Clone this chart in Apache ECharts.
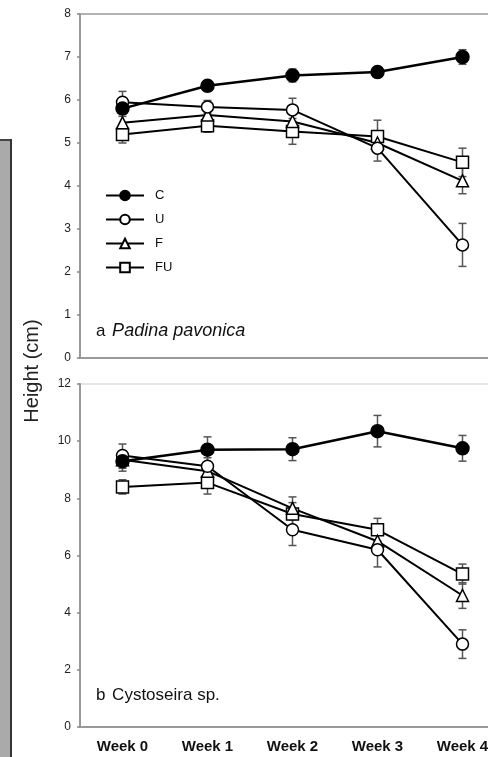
<!DOCTYPE html>
<html>
<head>
<meta charset="utf-8">
<script src="https://cdn.jsdelivr.net/npm/echarts@6/dist/echarts.min.js"></script>
<style>
  html, body { margin: 0; padding: 0; background: #fff; }
  #chart { width: 488px; height: 757px; }
</style>
</head>
<body>
<div id="chart"></div>
<script>
// Weekly sampling points shared by both panels
const weeks = ['Week 0', 'Week 1', 'Week 2', 'Week 3', 'Week 4'];
const treatments = ['C', 'U', 'F', 'FU'];

// Panel a: Padina pavonica, mean height (cm)
const padinaC  = [5.8, 6.33, 6.57, 6.65, 7.0];
const padinaU  = [5.95, 5.84, 5.77, 4.88, 2.63];
const padinaF  = [5.47, 5.65, 5.5, 5.0, 4.12];
const padinaFU = [5.2, 5.4, 5.27, 5.15, 4.55];
// Panel a: standard errors
const padinaErrC  = [0.12, 0.12, 0.15, 0.12, 0.17];
const padinaErrU  = [0.25, 0.15, 0.27, 0.3, 0.5];
const padinaErrF  = [0.15, 0.15, 0.2, 0.2, 0.3];
const padinaErrFU = [0.2, 0.15, 0.3, 0.38, 0.33];

// Panel b: Cystoseira sp., mean height (cm)
const cystC  = [9.3, 9.7, 9.72, 10.35, 9.75];
const cystU  = [9.5, 9.12, 6.9, 6.2, 2.9];
const cystF  = [9.35, 8.95, 7.65, 6.5, 4.6];
const cystFU = [8.4, 8.55, 7.45, 6.9, 5.35];
// Panel b: standard errors
const cystErrC  = [0.35, 0.45, 0.4, 0.55, 0.45];
const cystErrU  = [0.4, 0.3, 0.55, 0.6, 0.5];
const cystErrF  = [0.3, 0.3, 0.4, 0.4, 0.45];
const cystErrFU = [0.25, 0.4, 0.4, 0.4, 0.35];

// Y-axis tick settings for each panel
const padinaTicks = { min: 0, max: 8, interval: 1 };
const cystTicks = { min: 0, max: 12, interval: 2 };

const FONT = '"Liberation Sans", Arial, sans-serif';

const markerStyle = {
  C:  { symbol: 'circle',   size: 13, fill: '#000' },
  U:  { symbol: 'circle',   size: 12, fill: '#fff' },
  F:  { symbol: 'triangle', size: 12, fill: '#fff' },
  FU: { symbol: 'rect',     size: 12, fill: '#fff' }
};

function lineSeries(name, values, gridIndex, showInLegend) {
  const m = markerStyle[name];
  return {
    name: showInLegend ? name : name + ' ',
    type: 'line',
    xAxisIndex: gridIndex,
    yAxisIndex: gridIndex,
    data: values,
    symbol: m.symbol,
    symbolSize: m.size,
    showAllSymbol: true,
    z: name === 'C' ? 6 : 5,
    lineStyle: { color: '#000', width: name === 'C' ? 2.5 : 2 },
    itemStyle: { color: m.fill, borderColor: '#000', borderWidth: 1.5 },
    emphasis: { disabled: true },
    animation: false
  };
}

function errorSeries(values, errs, gridIndex) {
  return {
    type: 'custom',
    xAxisIndex: gridIndex,
    yAxisIndex: gridIndex,
    data: values.map((v, i) => [i, v, errs[i]]),
    z: 3,
    silent: true,
    animation: false,
    renderItem: function (params, api) {
      const x = api.value(0);
      const y = api.value(1);
      const e = api.value(2);
      const hi = api.coord([x, y + e]);
      const lo = api.coord([x, y - e]);
      const w = 4;
      const style = { stroke: '#555', lineWidth: 1.5 };
      return {
        type: 'group',
        children: [
          { type: 'line', shape: { x1: hi[0], y1: hi[1], x2: lo[0], y2: lo[1] }, style: style },
          { type: 'line', shape: { x1: hi[0] - w, y1: hi[1], x2: hi[0] + w, y2: hi[1] }, style: style },
          { type: 'line', shape: { x1: lo[0] - w, y1: lo[1], x2: lo[0] + w, y2: lo[1] }, style: style }
        ]
      };
    }
  };
}

function xAxisFor(gridIndex, showLabels) {
  return {
    type: 'category',
    gridIndex: gridIndex,
    data: weeks,
    boundaryGap: true,
    axisLine: { lineStyle: { color: '#999', width: 2 } },
    axisTick: { alignWithLabel: true, length: 4, lineStyle: { color: '#333', width: 1.5 } },
    axisLabel: {
      show: showLabels,
      color: '#111',
      fontFamily: FONT,
      fontSize: 15,
      fontWeight: 'bold',
      margin: 12,
      hideOverlap: false
    },
    splitLine: { show: false }
  };
}

function yAxisFor(gridIndex, ticks) {
  return {
    type: 'value',
    gridIndex: gridIndex,
    min: ticks.min,
    max: ticks.max,
    interval: ticks.interval,
    axisLine: { show: true, lineStyle: { color: '#999', width: 2 } },
    axisTick: { show: true, length: 3, lineStyle: { color: '#888', width: 1.5 } },
    axisLabel: { color: '#222', fontFamily: FONT, fontSize: 12, margin: 9 },
    splitLine: { show: false }
  };
}

const padinaSets = [padinaC, padinaU, padinaF, padinaFU];
const padinaErrs = [padinaErrC, padinaErrU, padinaErrF, padinaErrFU];
const cystSets = [cystC, cystU, cystF, cystFU];
const cystErrs = [cystErrC, cystErrU, cystErrF, cystErrFU];

const series = [];
treatments.forEach((t, k) => series.push(errorSeries(padinaSets[k], padinaErrs[k], 0)));
treatments.forEach((t, k) => series.push(errorSeries(cystSets[k], cystErrs[k], 1)));
// draw hollow treatments first so C sits on top
[3, 2, 1, 0].forEach(k => series.push(lineSeries(treatments[k], padinaSets[k], 0, true)));
[3, 2, 1, 0].forEach(k => series.push(lineSeries(treatments[k], cystSets[k], 1, false)));

const gridCommon = {
  left: 80,
  width: 425,
  containLabel: false,
  outerBoundsMode: 'none',
  show: true,
  borderWidth: 1.5,
  backgroundColor: 'transparent'
};

const option = {
  backgroundColor: '#fff',
  animation: false,
  // plot frames run past the right edge of the page
  grid: [
    Object.assign({}, gridCommon, { top: 14, height: 344, borderColor: '#999' }),
    Object.assign({}, gridCommon, { top: 384, height: 343, borderColor: '#ddd' })
  ],
  xAxis: [xAxisFor(0, false), xAxisFor(1, true)],
  yAxis: [yAxisFor(0, padinaTicks), yAxisFor(1, cystTicks)],
  legend: {
    orient: 'vertical',
    left: 100,
    top: 184,
    data: treatments,
    itemWidth: 38,
    itemHeight: 12,
    itemGap: 11,
    selectedMode: false,
    textStyle: { fontFamily: FONT, fontSize: 13, color: '#111', padding: [0, 0, 0, 6] }
  },
  graphic: [
    // grey side strip at the left margin
    { type: 'rect', left: 0, top: 139, shape: { width: 11, height: 618 }, style: { fill: '#aaa' }, silent: true },
    { type: 'rect', left: 0, top: 139, shape: { width: 12, height: 2 }, style: { fill: '#444' }, silent: true },
    { type: 'rect', left: 10, top: 139, shape: { width: 2, height: 618 }, style: { fill: '#333' }, silent: true },
    // shared y-axis title
    {
      type: 'text',
      x: 32, y: 371,
      rotation: Math.PI / 2,
      style: {
        text: 'Height (cm)',
        fontFamily: FONT,
        fontSize: 20,
        fill: '#222',
        align: 'center',
        verticalAlign: 'middle'
      },
      silent: true
    },
    // panel captions
    {
      type: 'text',
      left: 96, top: 322,
      style: {
        text: '{n|a}  {i|Padina pavonica}',
        rich: {
          n: { fontFamily: FONT, fontSize: 17, fill: '#111' },
          i: { fontFamily: FONT, fontSize: 18, fontStyle: 'italic', fill: '#111' }
        }
      },
      silent: true
    },
    {
      type: 'text',
      left: 96, top: 687,
      style: {
        text: '{n|b}  {i|Cystoseira sp.}',
        rich: {
          n: { fontFamily: FONT, fontSize: 17, fill: '#111' },
          i: { fontFamily: FONT, fontSize: 17, fill: '#111' }
        }
      },
      silent: true
    }
  ],
  series: series
};

const chart = echarts.init(document.getElementById('chart'), null, { renderer: 'canvas' });
chart.setOption(option);
</script>
</body>
</html>
